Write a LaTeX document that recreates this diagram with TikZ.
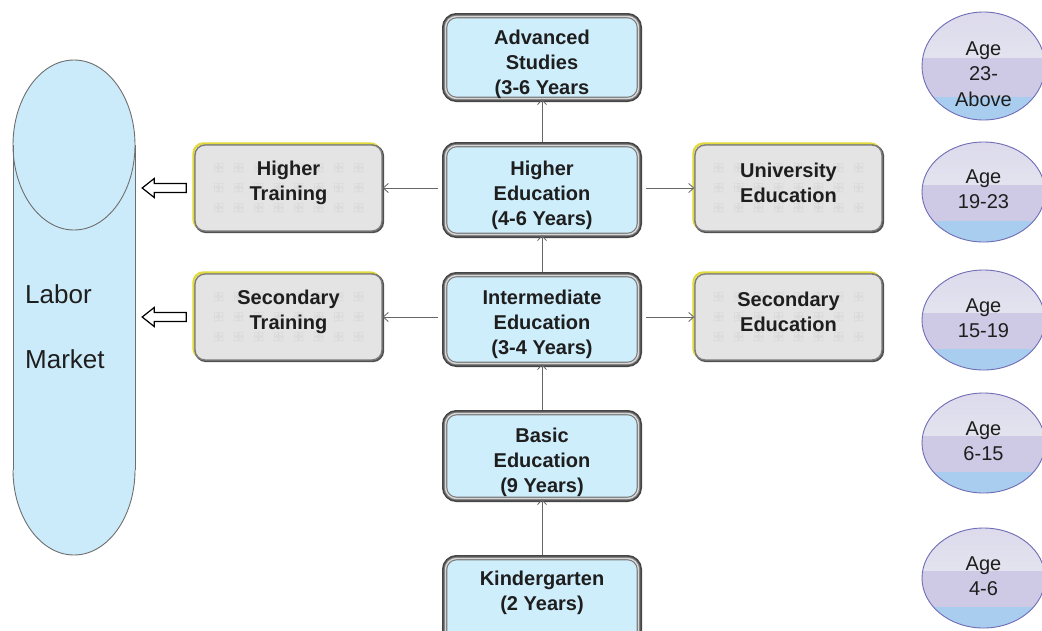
\documentclass[tikz,border=0pt]{standalone}
\usepackage{fontspec}
\setmainfont{Liberation Sans}
\usetikzlibrary{shapes.geometric,arrows.meta,calc}

\definecolor{boxblue}{HTML}{CFEEFC}
\definecolor{lmblue}{HTML}{CCEBFA}
\definecolor{lmrimc}{HTML}{6E6E6E}
\definecolor{rimdark}{HTML}{454545}
\definecolor{rimgray}{HTML}{7A7A7A}
\definecolor{rimlight}{HTML}{D6D6D6}
\definecolor{boxgray}{HTML}{E4E4E4}
\definecolor{patgray}{HTML}{DBDBDB}
\definecolor{trackrim}{HTML}{7C7C7C}
\definecolor{shadowgray}{HTML}{505050}
\definecolor{glow}{HTML}{E2DA3A}
\definecolor{lineg}{HTML}{666666}
\definecolor{agetopA}{HTML}{DCDAEC}
\definecolor{agetopB}{HTML}{EDEFF3}
\definecolor{agemid}{HTML}{CEC9E5}
\definecolor{agelow}{HTML}{A9CDEE}
\definecolor{ageline}{HTML}{6F6DB5}
\definecolor{inkc}{HTML}{1E1E1E}

% hollow block arrow from a training box towards the labor market column
\newcommand\feedarrow[2]{%
  \draw[hollow] let \p1=($(#1.west)+(-8,0)$), \p2=($(#2.east |- #1.west)+(7,0)$) in
    (\p1) -- (\x1,\y1+4.5pt) -- (\x2+12pt,\y1+4.5pt) -- (\x2+12pt,\y1+9.5pt) -- (\p2)
    -- (\x2+12pt,\y1-9.5pt) -- (\x2+12pt,\y1-4.5pt) -- (\x1,\y1-4.5pt) -- cycle;}

\begin{document}
\begin{tikzpicture}[x=1pt,y=-1pt,
  stage/.style={rectangle, rounded corners=11pt, minimum width=193pt, inner sep=0pt,
    preaction={draw=rimdark, line width=7pt},
    fill=boxblue, draw=rimgray, double=rimlight, double distance=1.4pt, line width=1.1pt},
  stagetext/.style={align=center, font=\bfseries\fontsize{20}{25}\selectfont, inner sep=0pt, text=inkc},
  track/.style={rectangle, rounded corners=10pt, minimum width=187pt, minimum height=86pt, inner sep=0pt,
    preaction={draw=glow, line width=2.2pt, transform canvas={shift={(-1.6pt,1.6pt)}}},
    preaction={draw=shadowgray, line width=2.4pt, transform canvas={shift={(0.9pt,-0.9pt)}}},
    fill=boxgray, draw=trackrim, line width=1.4pt,
    path picture={\foreach \i in {0,...,7}{\foreach \j in {0,1,2}{
      \fill[patgray] ($(path picture bounding box.north west)+(19+\i*20,18+\j*20)$) rectangle +(9,9);}}}},
  age/.style={ellipse, minimum width=123pt, minimum height=100pt, inner sep=0pt,
    draw=ageline, line width=0.9pt, fill=agemid,
    path picture={
      \shade[top color=agetopA, bottom color=agetopB] (path picture bounding box.north west)
        rectangle ($(path picture bounding box.north east)!0.42!(path picture bounding box.south east)$);
      \fill[agelow] ($(path picture bounding box.north west)!0.79!(path picture bounding box.south west)$)
        rectangle (path picture bounding box.south east);}},
  agetext/.style={align=center, font=\fontsize{20}{25.5}\selectfont, inner sep=0pt, text=inkc},
  lmrim/.style={draw=lmrimc, line width=0.9pt},
  conn/.style={draw=lineg, line width=0.8pt, -{Straight Barb[length=5pt,width=9pt]}},
  hollow/.style={draw=black, line width=1.2pt, fill=white, line join=miter}]

\useasboundingbox (0,0) rectangle (1042,630);
\clip (0,0) rectangle (1042,630);
\fill[white] (0,0) rectangle (1042,630);

% labor market column
\node[inner sep=0pt, minimum width=122pt, minimum height=495pt] (lm) at (74,307.5) {};
\fill[lmblue] (13,145) rectangle (135,470);
\fill[lmblue] (74,145) ellipse [x radius=61, y radius=85];
\fill[lmblue] (74,470) ellipse [x radius=61, y radius=85];
\draw[lmrim] (13,145) -- (13,470) (135,145) -- (135,470);
\draw[lmrim] (74,145) ellipse [x radius=61, y radius=85];
\begin{scope}
  \clip (0,470) rectangle (150,600);
  \draw[lmrim] (74,470) ellipse [x radius=61, y radius=85];
\end{scope}
\node[anchor=base west, inner sep=0pt, font=\fontsize{26}{30}\selectfont, text=inkc] (lmA) at (25,303) {Labor};
\node[anchor=base west, inner sep=0pt, font=\fontsize{26}{30}\selectfont, text=inkc] (lmB) at (25,368) {Market};

% main education track
\node[stage, minimum height=82pt] (adv) at (542,57.5) {};
\node[stage, minimum height=89pt] (he) at (542,190) {};
\node[stage, minimum height=88pt] (ie) at (542,319.5) {};
\node[stage, minimum height=85pt] (be) at (542,456) {};
\node[stage, minimum height=88pt] (kg) at (542,602.5) {};

% side branches
\node[track] (ht) at (288.5,188) {};
\node[track] (st) at (288.5,317) {};
\node[track] (ue) at (788.5,188) {};
\node[track] (se) at (788.5,317) {};

% connectors
\draw[conn, shorten <=3pt] (he) -- (adv);
\draw[conn, shorten <=3pt] (ie) -- (he);
\draw[conn, shorten <=3pt] (be) -- (ie);
\draw[conn, shorten <=3pt] (kg) -- (be);
\draw[conn, shorten <=7pt] (ht.east -| he.west) -- (ht.east);
\draw[conn, shorten <=7pt] (ue.west -| he.east) -- (ue.west);
\draw[conn, shorten <=7pt] (st.east -| ie.west) -- (st.east);
\draw[conn, shorten <=7pt] (se.west -| ie.east) -- (se.west);

\feedarrow{ht}{lm}
\feedarrow{st}{lm}

% box labels
\node[stagetext] (advT) at (542,64) {Advanced\\Studies\\(3-6 Years};
\node[stagetext] (heT) at (542,195) {Higher\\Education\\(4-6 Years)};
\node[stagetext] (ieT) at (542,324) {Intermediate\\Education\\(3-4 Years)};
\node[stagetext] (beT) at (542,462) {Basic\\Education\\(9 Years)};
\node[stagetext] (kgT) at (542,593) {Kindergarten\\(2 Years)};
\node[stagetext] (htT) at (288.5,183) {Higher\\Training};
\node[stagetext] (stT) at (288.5,312) {Secondary\\Training};
\node[stagetext] (ueT) at (788.5,183) {University\\Education};
\node[stagetext] (seT) at (788.5,312) {Secondary\\Education};

% age bands
\node[age, minimum height=108pt] (a1) at (983.5,66) {};
\node[age] (a2) at (983.5,192) {};
\node[age] (a3) at (983.5,320) {};
\node[age] (a4) at (983.5,443) {};
\node[age] (a5) at (983.5,578) {};
\node[agetext] (a1T) at (983.5,74) {Age\\23-\\Above};
\node[agetext] (a2T) at (983.5,189) {Age\\19-23};
\node[agetext] (a3T) at (983.5,318) {Age\\15-19};
\node[agetext] (a4T) at (983.5,441) {Age\\6-15};
\node[agetext] (a5T) at (983.5,576) {Age\\4-6};
\end{tikzpicture}
\end{document}
